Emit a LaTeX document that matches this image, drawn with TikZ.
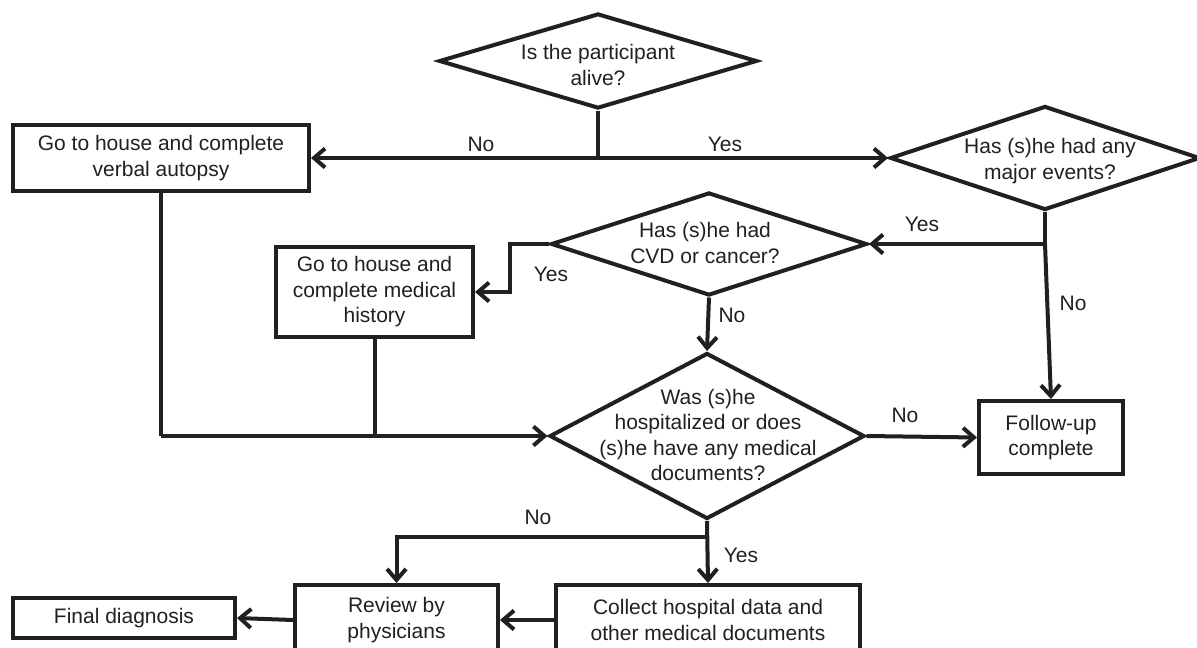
\documentclass[tikz,border=0pt]{standalone}
\usepackage{fontspec}
\setmainfont{Liberation Sans}
\usetikzlibrary{shapes.geometric,arrows.meta}
\definecolor{ink}{HTML}{231F20}
\begin{document}
\begin{tikzpicture}[x=1pt,y=-1pt,
  every node/.style={font=\fontsize{21}{25.5}\selectfont, text=ink},
  box/.style={draw=ink, line width=4pt, rectangle, inner sep=0pt, align=center},
  dia/.style={draw=ink, line width=4pt, diamond, inner sep=0pt},
  txt/.style={align=center, inner sep=0pt},
  lab/.style={inner sep=0pt},
  conn/.style={draw=ink, line width=4pt},
  arr/.style={conn, -{Straight Barb[length=11pt,width=19pt]}}]
\useasboundingbox (0,0) rectangle (1197,648);

% decisions
\node[dia, minimum width=318pt, minimum height=95pt] (d1) at (598,61) {};
\node[txt] (t1) at (598,65) {Is the participant\\alive?};
\node[dia, minimum width=310pt, minimum height=104pt] (d2) at (1045,158) {};
\node[txt] (t2) at (1050,161) {Has (s)he had any\\major events?};
\node[dia, minimum width=316pt, minimum height=103pt] (d3) at (709,244) {};
\node[txt] (t3) at (705,243) {Has (s)he had\\CVD or cancer?};
\node[dia, minimum width=315pt, minimum height=166pt] (d4) at (707,436) {};
\node[txt] (t4) at (708,435) {Was (s)he\\hospitalized or does\\(s)he have any medical\\documents?};

% boxes
\node[box, minimum width=296pt, minimum height=66pt] (box1) at (161,158) {Go to house and complete\\verbal autopsy};
\node[box, minimum width=197pt, minimum height=90pt] (box2) at (374.5,292) {Go to house and\\complete medical\\history};
\node[box, minimum width=144pt, minimum height=73pt] (follow) at (1051,437.5) {Follow-up\\complete};
\node[box, minimum width=304pt, minimum height=70pt] (collect) at (708,620) {Collect hospital data and\\other medical documents};
\node[box, minimum width=203pt, minimum height=70pt] (review) at (396.5,620) {Review by\\physicians};
\node[box, minimum width=222pt, minimum height=40pt] (final) at (124,618) {Final diagnosis};

% labels
\node[lab] (l1) at (481,144) {No};
\node[lab] (l2) at (725,144) {Yes};
\node[lab] (l3) at (922,224) {Yes};
\node[lab] (l4) at (1073,303) {No};
\node[lab] (l5) at (551,274) {Yes};
\node[lab] (l6) at (732,315) {No};
\node[lab] (l7) at (905,415) {No};
\node[lab] (l8) at (538,517) {No};
\node[lab] (l9) at (741,555) {Yes};

% connectors
\coordinate (j1) at (d1.south |- box1.east);
\draw[conn] (d1.south) -- (j1);
\draw[arr] (j1) -- (box1.east);
\draw[arr] (j1) -- (d2.west);

\coordinate (j2) at (d2.south |- d3.east);
\draw[conn] (d2.south) -- (j2);
\draw[arr] (j2) -- (d3.east);
\draw[arr] (j2) -- (follow.north);

\draw[arr] (d3.west) -- ++(-39,0) |- (box2.east);
\draw[arr] (d3.south) -- (d4.north);

\coordinate (j3) at (box1.south |- d4.west);
\coordinate (j4) at (box2.south |- d4.west);
\draw[conn] (box1.south) -- (j3);
\draw[arr] (j3) -- (d4.west);
\draw[conn] (box2.south) -- (j4);

\draw[arr] (d4.east) -- (follow.west);

\path (d4.south) ++(0,16) coordinate (j5);
\draw[arr] (d4.south) -- (collect.north);
\draw[arr] (j5) -| (review.north);

\draw[arr] (collect.west) -- (review.east);
\draw[arr] (review.west) -- (final.east);
\end{tikzpicture}
\end{document}
